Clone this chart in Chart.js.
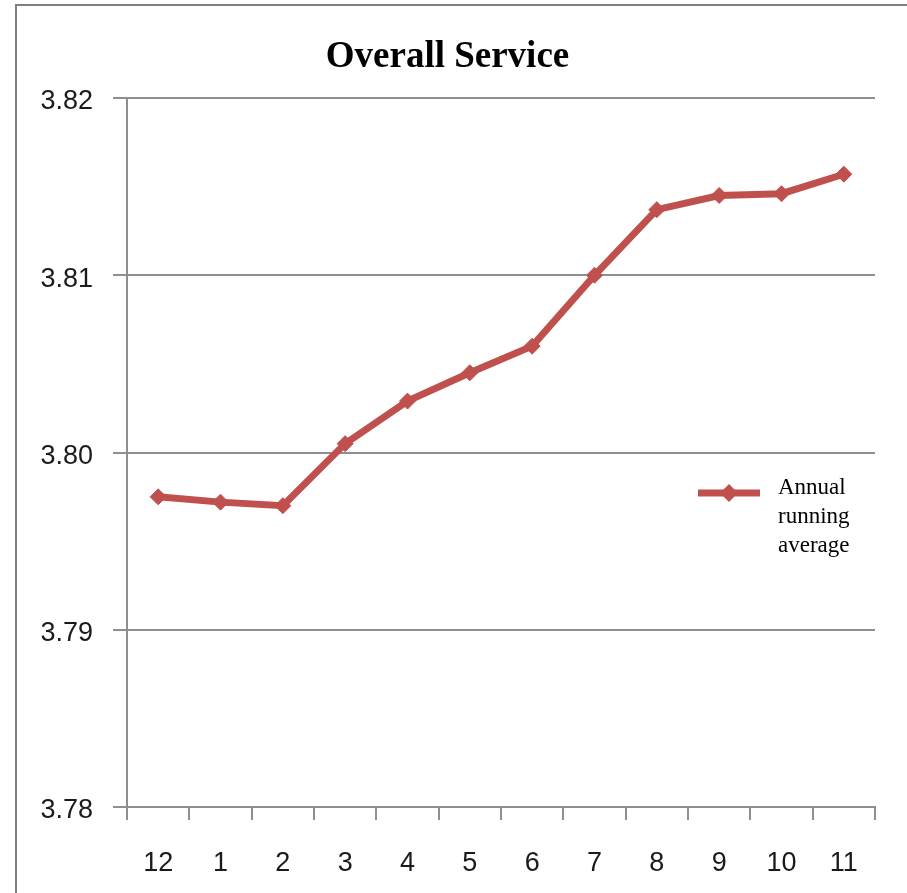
<!DOCTYPE html>
<html lang="en">

<head>
    <title>Overall Service</title>
    <meta charset="utf-8">
    <script src="https://cdn.jsdelivr.net/npm/chart.js"></script>
    <style>
        html, body { margin: 0; padding: 0; background: #fff; }
        #wrap { position: relative; width: 907px; height: 893px; }
        #frame {
            position: absolute; left: 15px; top: 4px; right: 0; bottom: 0;
            border-left: 2px solid #7f7f7f; border-top: 2px solid #7f7f7f;
            pointer-events: none;
        }
    </style>
</head>

<body>
    <div id="wrap">
        <canvas id="serviceChart" width="907" height="893"></canvas>
        <div id="frame"></div>
    </div>

    <script>
        // months, Dec through Nov
        const months = ['12', '1', '2', '3', '4', '5', '6', '7', '8', '9', '10', '11'];
        const runningAvg = [3.7975, 3.7972, 3.7970, 3.8005, 3.8029, 3.8045, 3.8060, 3.8100, 3.8137, 3.8145, 3.8146, 3.8157];
        const yTicks = [3.78, 3.79, 3.80, 3.81, 3.82];
        const legendLines = ['Annual', 'running', 'average'];

        const red = '#c0504d';
        const gridGray = '#8f8f8f';

        // legend drawn on top of the plot, like the original
        const sideLegend = {
            id: 'sideLegend',
            afterDraw(chart) {
                const c = chart.ctx;
                const y = 493;
                c.save();
                c.strokeStyle = red;
                c.lineWidth = 7;
                c.beginPath();
                c.moveTo(698, y);
                c.lineTo(760, y);
                c.stroke();
                c.fillStyle = red;
                c.beginPath();
                c.moveTo(729, y - 9);
                c.lineTo(738, y);
                c.lineTo(729, y + 9);
                c.lineTo(720, y);
                c.closePath();
                c.fill();
                c.fillStyle = '#000';
                c.font = '23px "Liberation Serif", "Times New Roman", serif';
                c.textBaseline = 'alphabetic';
                legendLines.forEach((t, i) => c.fillText(t, 778, 494 + i * 29));
                c.restore();
            }
        };

        new Chart(document.getElementById('serviceChart'), {
            type: 'line',
            data: {
                labels: months,
                datasets: [{
                    label: 'Annual running average',
                    data: runningAvg,
                    borderColor: red,
                    backgroundColor: red,
                    borderWidth: 7,
                    pointStyle: 'rectRot',
                    pointRadius: 8,
                    pointBackgroundColor: red,
                    pointBorderColor: red,
                    pointBorderWidth: 1,
                    tension: 0
                }]
            },
            options: {
                responsive: false,
                animation: false,
                layout: { padding: { left: 20, right: 32, top: 0, bottom: 0 } },
                plugins: {
                    legend: { display: false },
                    tooltip: { enabled: false },
                    title: {
                        display: true,
                        text: 'Overall Service',
                        color: '#000',
                        font: { family: '"Liberation Serif", "Times New Roman", serif', size: 37, weight: 'bold' },
                        padding: { top: 35, bottom: 18.6 }
                    }
                },
                scales: {
                    x: {
                        offset: true,
                        grid: {
                            offset: true,
                            drawOnChartArea: false,
                            drawTicks: true,
                            tickLength: 13,
                            color: gridGray,
                            lineWidth: 2
                        },
                        border: { display: true, color: gridGray, width: 2 },
                        ticks: {
                            color: '#1a1a1a',
                            padding: 27,
                            maxRotation: 0,
                            font: { family: '"Liberation Sans", Arial, sans-serif', size: 27 }
                        },
                        afterFit(scale) { scale.height = 86; }
                    },
                    y: {
                        min: 3.78,
                        max: 3.82,
                        afterBuildTicks(scale) { scale.ticks = yTicks.map(v => ({ value: v })); },
                        grid: {
                            color: gridGray,
                            lineWidth: 2,
                            tickLength: 14
                        },
                        border: { display: true, color: gridGray, width: 2 },
                        ticks: {
                            color: '#1a1a1a',
                            padding: 20,
                            labelOffset: 4,
                            font: { family: '"Liberation Sans", Arial, sans-serif', size: 27 },
                            callback: v => v.toFixed(2)
                        },
                        afterFit(scale) { scale.width = 107; }
                    }
                }
            },
            plugins: [sideLegend]
        });
    </script>
</body>

</html>
